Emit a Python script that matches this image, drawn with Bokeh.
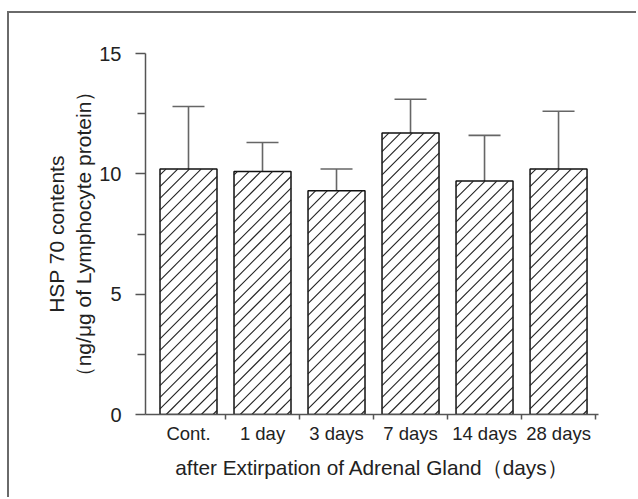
import numpy as np
from bokeh.plotting import figure
from bokeh.models import (Range1d, FixedTicker, Whisker, TeeHead,
                          ColumnDataSource)
from bokeh.embed import file_html
from bokeh.resources import INLINE

# ---- data ----
categories = ["Cont.", "1 day", "3 days", "7 days", "14 days", "28 days"]
means = [10.2, 10.1, 9.3, 11.7, 9.7, 10.2]
errors = [2.6, 1.2, 0.9, 1.4, 1.9, 2.4]
y_ticks = [0, 5, 10, 15]
y_minor_ticks = [2.5, 7.5, 12.5]

x_label = "after Extirpation of Adrenal Gland（days）"
y_label = "HSP 70 contents\n（ng/μg of Lymphocyte protein）"

FONT = "Liberation Sans"
TXT = "#222222"
AX = "#555555"

n = len(categories)
xpos = np.arange(n) + 0.5
upper = np.array(means) + np.array(errors)
src = ColumnDataSource(dict(x=xpos, top=means, upper=upper, cat=categories))

# ---- layout (pixels) ----
OFF_X, OFF_Y = 8, 12            # outer frame lines
CANVAS_L, CANVAS_T = OFF_X + 1, OFF_Y + 1
W, H = 638 - CANVAS_L, 499 - CANVAS_T
FRAME_L, FRAME_R, FRAME_T, FRAME_B = 145, 598, 53, 414
X0, X1 = -0.081, n + 0.04
Y0, Y1 = 0, 15
BAR_W = 0.77

p = figure(width=W, height=H, x_range=Range1d(X0, X1),
           y_range=Range1d(Y0, Y1), output_backend="svg",
           toolbar_location=None,
           min_border_left=FRAME_L - CANVAS_L,
           min_border_right=638 - FRAME_R,
           min_border_top=FRAME_T - CANVAS_T,
           min_border_bottom=499 - FRAME_B)
p.styles = {"border-left": "2px solid #6a6a6a", "border-top": "2px solid #6a6a6a",
            "margin-left": f"{OFF_X - 1}px", "margin-top": f"{OFF_Y - 1}px"}
p.xgrid.visible = False
p.ygrid.visible = False
p.outline_line_color = None
p.background_fill_color = "white"
p.border_fill_color = "white"

p.vbar(x="x", top="top", bottom=0, width=BAR_W, source=src,
       fill_color="white", line_color="#111111", line_width=1.5)

# 45-degree hatching inside each bar (computed from the bar data)
kx = (FRAME_R - FRAME_L) / (X1 - X0)     # px per x unit
ky = (FRAME_B - FRAME_T) / (Y1 - Y0)     # px per y unit
SP = 11.7                               # hatch spacing (px, vertical)
hx0, hy0, hx1, hy1 = [], [], [], []
for xc, t in zip(xpos, means):
    xl = xc - BAR_W / 2
    wb = BAR_W * kx
    hb = t * ky
    for c in np.arange(-wb + 4.0, hb, SP):
        xs = max(0.0, -c)
        xe = min(wb, hb - c)
        if xe - xs > 0.5:
            hx0.append(xl + xs / kx); hy0.append((xs + c) / ky)
            hx1.append(xl + xe / kx); hy1.append((xe + c) / ky)
p.segment(x0=hx0, y0=hy0, x1=hx1, y1=hy1, line_color="#222222", line_width=1.1)

wh = Whisker(base="x", upper="upper", lower="top", source=src,
             dimension="height", line_color="#666666", line_width=1.6,
             upper_head=TeeHead(size=32, line_color="#666666", line_width=1.6),
             lower_head=None)
p.add_layout(wh)

# x axis: labels at category centres, ticks at boundaries (minor ticks)
xa = p.xaxis[0]
xa.ticker = FixedTicker(ticks=list(xpos), minor_ticks=list(range(1, n + 1)))
xa.major_label_overrides = {float(x): c for x, c in zip(xpos, categories)}
xa.major_tick_out = 0
xa.major_tick_in = 0
xa.minor_tick_out = 5
xa.minor_tick_in = 0
xa.minor_tick_line_color = AX
xa.axis_line_color = AX
xa.axis_line_width = 1.5
xa.minor_tick_line_width = 1.5
xa.major_label_standoff = 3
xa.major_label_text_font = FONT
xa.major_label_text_font_size = "18.5px"
xa.major_label_text_color = TXT
xa.axis_label = x_label
xa.axis_label_text_font = FONT
xa.axis_label_text_font_style = "normal"
xa.axis_label_text_font_size = "20.8px"
xa.axis_label_text_color = TXT
xa.axis_label_standoff = 9

ya = p.yaxis[0]
ya.ticker = FixedTicker(ticks=y_ticks, minor_ticks=y_minor_ticks)
ya.major_tick_out = 10
ya.major_tick_in = 0
ya.minor_tick_out = 8
ya.minor_tick_in = 0
ya.major_tick_line_color = AX
ya.minor_tick_line_color = AX
ya.major_tick_line_width = 1.5
ya.minor_tick_line_width = 1.5
ya.axis_line_color = AX
ya.axis_line_width = 1.5
ya.major_label_standoff = 14
ya.major_label_text_font = FONT
ya.major_label_text_font_size = "20px"
ya.major_label_text_color = TXT
ya.axis_label = y_label
ya.axis_label_text_font = FONT
ya.axis_label_text_font_style = "normal"
ya.axis_label_text_font_size = "21px"
ya.axis_label_text_color = TXT
ya.axis_label_standoff = 1

open("out.html", "w").write(file_html(p, INLINE))
